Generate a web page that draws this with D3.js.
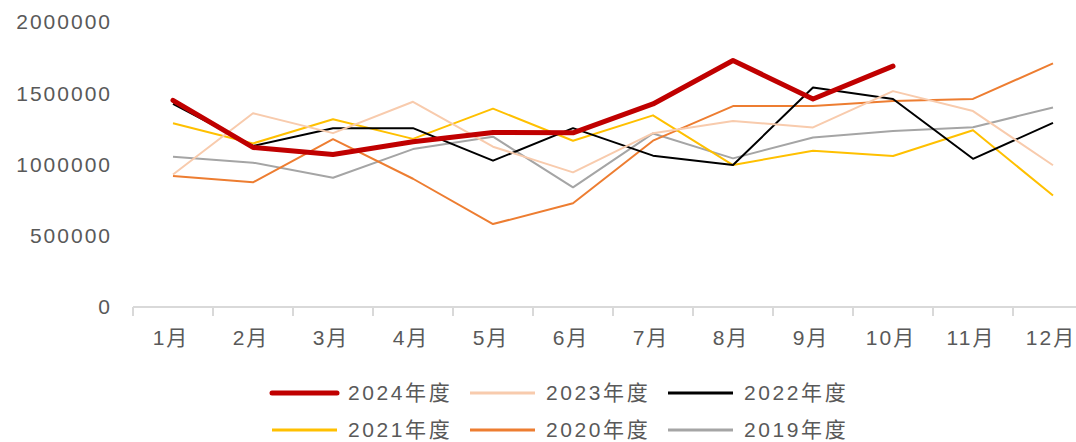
<!DOCTYPE html>
<html><head><meta charset="utf-8">
<script src="https://cdn.jsdelivr.net/npm/d3@7/dist/d3.min.js"></script>
<style>
html,body{margin:0;padding:0;background:#fff;}
svg text{font-family:"Liberation Sans","Noto Sans CJK SC",Arial,sans-serif;fill:#595959;}
</style></head>
<body>
<svg id="chart" width="1076" height="442"></svg>
<script>
const months = ["1月","2月","3月","4月","5月","6月","7月","8月","9月","10月","11月","12月"];
const yTicks = [0, 500000, 1000000, 1500000, 2000000];
const seriesNames = ["2024年度","2023年度","2022年度","2021年度","2020年度","2019年度"];
const s2024 = [1450000,1120000,1070000,1160000,1225000,1222000,1425000,1730000,1460000,1690000];
const s2023 = [930000,1360000,1220000,1440000,1125000,945000,1220000,1305000,1260000,1515000,1375000,995000];
const s2022 = [1425000,1130000,1255000,1255000,1027000,1255000,1062000,996000,1540000,1460000,1040000,1292000];
const s2021 = [1290000,1148000,1318000,1180000,1392000,1167000,1345000,996000,1097000,1060000,1240000,782000];
const s2020 = [920000,875000,1178000,900000,582000,728000,1167000,1410000,1410000,1445000,1460000,1710000];
const s2019 = [1055000,1013000,907000,1108000,1195000,840000,1218000,1043000,1190000,1235000,1262000,1400000];
const seriesData = [s2024,s2023,s2022,s2021,s2020,s2019];
const colors = ["#C00000","#F8CBAD","#000000","#FFC000","#ED7D31","#A5A5A5"];
const widths = [5,2,2,2,2,2];

const svg = d3.select("#chart");
const x = d3.scaleBand().domain(months).range([133, 1093]).padding(0);
const y = d3.scaleLinear().domain([0, 2000000]).range([307, 22]);

// y labels
svg.append("g").selectAll("text").data(yTicks).join("text")
  .attr("x", 112).attr("y", d => y(d)).attr("dy", "0.35em")
  .attr("text-anchor", "end")
  .style("font-size", "21px").style("letter-spacing", "2px")
  .text(d => d);

// x axis
svg.append("line").attr("x1", 133).attr("x2", 1076).attr("y1", 307).attr("y2", 307)
  .attr("stroke", "#d9d9d9").attr("stroke-width", 2);
svg.append("g").selectAll("line").data(months).join("line")
  .attr("x1", d => x(d)).attr("x2", d => x(d))
  .attr("y1", 307).attr("y2", 316)
  .attr("stroke", "#d9d9d9").attr("stroke-width", 2);
svg.append("g").selectAll("text").data(months).join("text")
  .attr("x", d => x(d) + x.bandwidth()/2 - 2).attr("y", 338).attr("dy", "0.35em")
  .attr("text-anchor", "middle")
  .style("font-size", "21px").style("letter-spacing", "2px")
  .text(d => d);

// lines
const line = d3.line().x((d, i) => x(months[i]) + x.bandwidth()/2).y(d => y(d));
const order = [5,4,3,2,1,0];
order.forEach(k => {
  svg.append("path").datum(seriesData[k])
    .attr("d", line).attr("fill", "none")
    .attr("stroke", colors[k]).attr("stroke-width", widths[k])
    .attr("stroke-linejoin", "round")
    .attr("stroke-linecap", k === 0 ? "round" : "butt");
});

// legend
const legX = [272, 470, 668];
const legY = [393, 430];
seriesNames.forEach((name, i) => {
  const lx = legX[i % 3], ly = legY[Math.floor(i / 3)];
  const g = svg.append("g");
  g.append("line").attr("x1", lx).attr("x2", lx + 65).attr("y1", ly).attr("y2", ly)
    .attr("stroke", colors[i]).attr("stroke-width", widths[i] + (i === 0 ? 0 : 1))
    .attr("stroke-linecap", i === 0 ? "round" : "butt");
  g.append("text").attr("x", lx + 76).attr("y", ly).attr("dy", "0.35em")
    .style("font-size", "21px").style("letter-spacing", "2.6px")
    .text(name);
});
</script>
</body></html>
